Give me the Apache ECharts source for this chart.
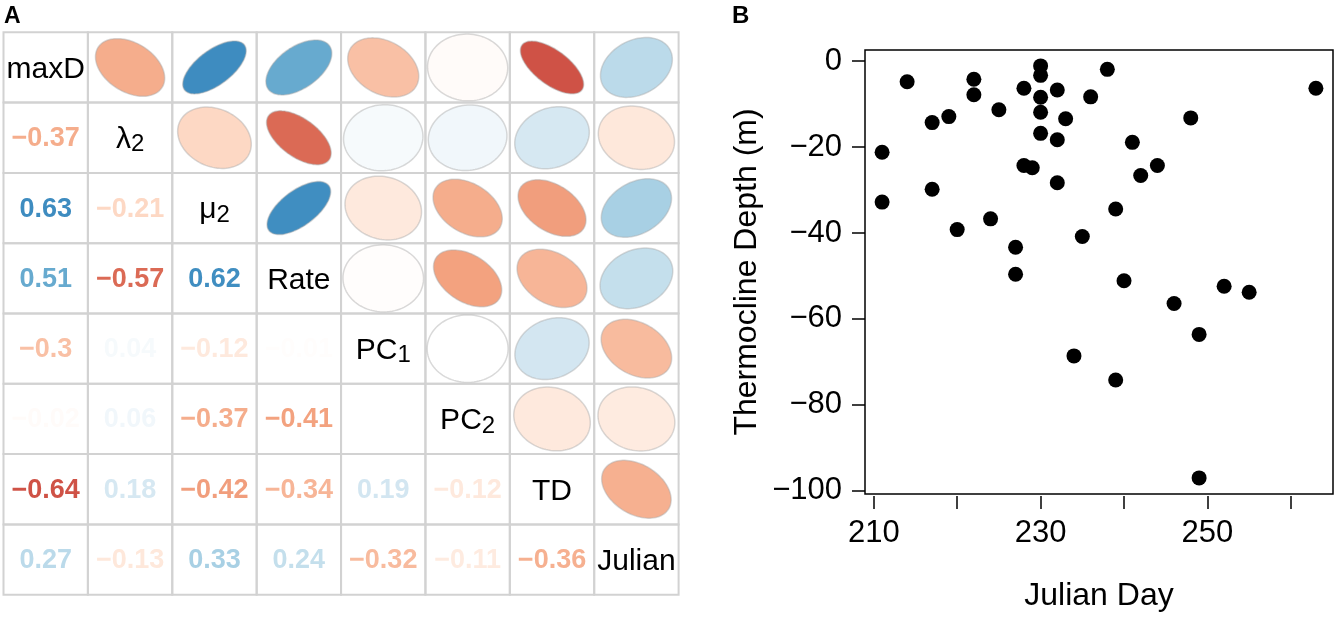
<!DOCTYPE html>
<html><head><meta charset="utf-8">
<script src="https://cdn.jsdelivr.net/npm/echarts@6/dist/echarts.min.js"></script>
<style>html,body{margin:0;padding:0;background:#fff}#c{width:1339px;height:617px}</style>
</head><body><div id="c"></div>
<script>
// ---- Panel A data ----
const variables = ['maxD', 'λ2', 'μ2', 'Rate', 'PC1', 'PC2', 'TD', 'Julian'];
const diagLabels = ['maxD', '{m|λ}{s|2}', '{m|μ}{s|2}', 'Rate', '{m|PC}{s|1}', '{m|PC}{s|2}', 'TD', 'Julian'];
// lower triangle of the correlation matrix (row i, columns 0..i-1)
const corrLower = [
  [],
  [-0.37],
  [0.63, -0.21],
  [0.51, -0.57, 0.62],
  [-0.3, 0.04, -0.12, -0.01],
  [-0.02, 0.06, -0.37, -0.41, 0],
  [-0.64, 0.18, -0.42, -0.34, 0.19, -0.12],
  [0.27, -0.13, 0.33, 0.24, -0.32, -0.11, -0.36]
];
// ---- Panel B data ----
const julianDay = [211, 211, 214, 217, 219, 217, 220, 222, 222, 225, 224, 227, 227, 228, 228, 229,
  230, 230, 230, 230, 230, 232, 232, 232, 233, 236, 235, 238, 239, 240, 241, 242, 244, 246, 248,
  252, 255, 263, 234, 239, 249, 249];
const thermoclineDepth = [-21.2, -32.8, -4.8, -14.3, -12.9, -29.8, -39.2, -4.2, -7.8, -11.3, -36.7,
  -43.3, -49.6, -6.3, -24.3, -24.8, -1.1, -3.3, -8.4, -11.9, -16.8, -6.7, -18.3, -28.3, -13.4, -8.3,
  -40.8, -1.9, -34.4, -51.1, -18.9, -26.6, -24.3, -56.4, -13.2, -52.4, -53.8, -6.3, -68.6, -74.2,
  -63.6, -97.0];
const xTicks = [210, 220, 230, 240, 250, 260];
const xLabels = [210, 230, 250];
const yTicks = [-100, -80, -60, -40, -20, 0];

// RdBu palette (corrplot COL2('RdBu'))
const palette = ['#67001F', '#B2182B', '#D6604D', '#F4A582', '#FDDBC7', '#FFFFFF',
  '#D1E5F0', '#92C5DE', '#4393C3', '#2166AC', '#053061'];
function hex2rgb(h) { return [1, 3, 5].map(i => parseInt(h.substr(i, 2), 16)); }
function corrColor(r) {
  const p = (r + 1) / 2 * (palette.length - 1);
  const i = Math.min(Math.floor(p), palette.length - 2);
  const f = p - i;
  const a = hex2rgb(palette[i]), b = hex2rgb(palette[i + 1]);
  const c = a.map((v, k) => Math.round(v + (b[k] - v) * f));
  return 'rgb(' + c.join(',') + ')';
}
function corr(i, j) {
  if (i === j) return 1;
  return i > j ? corrLower[i][j] : corrLower[j][i];
}
const cells = [];
for (let row = 0; row < variables.length; row++) {
  for (let col = 0; col < variables.length; col++) {
    cells.push([col, row, corr(row, col)]);
  }
}
const FONT = 'Liberation Sans, Arial, Helvetica, sans-serif';

function renderCell(params, api) {
  const col = api.value(0), row = api.value(1), r = api.value(2);
  const c = api.coord([col, row]);
  const s = api.size([1, 1]);
  const W = Math.abs(s[0]), H = Math.abs(s[1]);
  const children = [{
    type: 'rect',
    shape: { x: c[0] - W / 2, y: c[1] - H / 2, width: W, height: H },
    style: { fill: 'none', stroke: '#D2D2D2', lineWidth: 2 }
  }];
  if (row === col) {
    children.push({
      type: 'text', x: c[0], y: c[1] + 2,
      style: {
        text: diagLabels[row], fill: '#000', fontSize: 30, fontFamily: FONT,
        align: 'center', verticalAlign: 'middle',
        rich: {
          m: { fontSize: 30, fontFamily: FONT, fill: '#000', lineHeight: 34, verticalAlign: 'middle' },
          s: { fontSize: 24, fontFamily: FONT, fill: '#000', lineHeight: 14, verticalAlign: 'bottom' }
        }
      }
    });
  } else if (col > row) {
    const t = 0.48 / Math.sqrt(1 + Math.abs(r));
    const d = Math.acos(r);
    const pts = [];
    const n = 100;
    for (let k = 0; k < n; k++) {
      const a = k / n * 2 * Math.PI;
      const ux = t * Math.cos(a + d / 2);
      const uy = t * Math.cos(a - d / 2);
      pts.push([c[0] + ux * W, c[1] - uy * H]);
    }
    children.push({
      type: 'polygon', shape: { points: pts },
      style: { fill: corrColor(r), stroke: 'rgba(170,170,170,0.45)', lineWidth: 1.5 }
    });
  } else {
    children.push({
      type: 'text', x: c[0], y: c[1] + 1,
      style: {
        text: String(r).replace('-', '\u2212'), fill: corrColor(r),
        fontSize: 27, fontWeight: 'bold', fontFamily: FONT,
        align: 'center', verticalAlign: 'middle'
      }
    });
  }
  return { type: 'group', children };
}

const chart = echarts.init(document.getElementById('c'), null, { renderer: 'canvas' });
chart.setOption({
  animation: false,
  backgroundColor: '#fff',
  graphic: [
    { type: 'text', left: 4, top: 5, style: { text: 'A', fontSize: 23, fontWeight: 'bold', fontFamily: FONT, fill: '#000' } },
    { type: 'text', left: 732, top: 4, style: { text: 'B', fontSize: 24, fontWeight: 'bold', fontFamily: FONT, fill: '#000' } }
  ],
  grid: [
    { left: 3.5, top: 32.3, width: 675.1, height: 562.4 },
    { left: 865, top: 50, width: 468, height: 444.3, show: true, borderColor: '#000', borderWidth: 1.5, backgroundColor: 'transparent' }
  ],
  xAxis: [
    { type: 'category', gridIndex: 0, data: variables, show: false },
    {
      type: 'value', gridIndex: 1, position: 'bottom', min: 208.95, max: 265.05, offset: 2,
      axisLine: { show: false, onZero: false },
      axisTick: { show: true, customValues: xTicks, length: 13, lineStyle: { color: '#000', width: 1.5 } },
      axisLabel: { customValues: xLabels, fontSize: 31, fontFamily: FONT, color: '#000', margin: 22 },
      splitLine: { show: false },
      name: 'Julian Day', nameLocation: 'middle', nameGap: 84,
      nameTextStyle: { fontSize: 32, fontFamily: FONT, color: '#000' }
    }
  ],
  yAxis: [
    { type: 'category', gridIndex: 0, data: variables, inverse: true, show: false },
    {
      type: 'value', gridIndex: 1, position: 'left', min: -100.75, max: 2.6,
      axisLine: { show: false, onZero: false },
      axisTick: { show: true, customValues: yTicks, length: 13, lineStyle: { color: '#000', width: 1.5 } },
      axisLabel: {
        customValues: yTicks, fontSize: 31, fontFamily: FONT, color: '#000', margin: 23,
        formatter: v => String(v).replace('-', '\u2212')
      },
      splitLine: { show: false },
      name: 'Thermocline Depth (m)', nameLocation: 'middle', nameGap: 102,
      nameTextStyle: { fontSize: 32, fontFamily: FONT, color: '#000' }
    }
  ],
  series: [
    {
      type: 'custom', xAxisIndex: 0, yAxisIndex: 0, data: cells,
      renderItem: renderCell, silent: true
    },
    {
      type: 'scatter', xAxisIndex: 1, yAxisIndex: 1,
      data: julianDay.map((d, i) => [d, thermoclineDepth[i]]),
      symbol: 'circle', symbolSize: 15, itemStyle: { color: '#000', opacity: 1 }, silent: true
    }
  ]
});
</script>
</body></html>
